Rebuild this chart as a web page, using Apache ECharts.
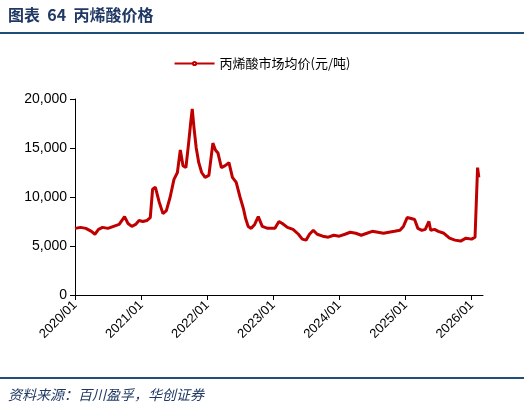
<!DOCTYPE html>
<html><head><meta charset="utf-8">
<script src="https://cdn.jsdelivr.net/npm/echarts@6/dist/echarts.min.js"></script>
<style>body{margin:0}#c{width:524px;height:413px}</style></head>
<body><div id="c"></div>
<script>
const dates = ["2020-01-01","2020-02-01","2020-03-01","2020-04-01","2020-04-20","2020-05-10","2020-06-01","2020-07-01","2020-08-01","2020-09-01","2020-10-01","2020-10-20","2020-11-10","2020-12-01","2020-12-20",
"2021-01-10","2021-02-01","2021-02-20","2021-03-05","2021-03-20","2021-04-10","2021-05-01","2021-05-20","2021-06-10","2021-07-01","2021-07-20","2021-08-05","2021-08-20","2021-09-05","2021-09-20","2021-10-01","2021-10-10","2021-10-20","2021-11-01","2021-11-15","2021-12-01","2021-12-20",
"2022-01-10","2022-02-01","2022-02-15","2022-03-01","2022-03-20","2022-04-10","2022-05-01","2022-05-20","2022-06-10","2022-07-01","2022-07-20","2022-08-01","2022-08-15","2022-09-01","2022-09-20","2022-10-10","2022-11-01","2022-12-01",
"2023-01-10","2023-02-01","2023-02-20","2023-03-20","2023-04-20","2023-05-20","2023-06-10","2023-07-01","2023-07-20","2023-08-10","2023-09-01","2023-10-01","2023-11-01","2023-12-01",
"2024-01-01","2024-02-01","2024-03-01","2024-04-01","2024-05-01","2024-06-01","2024-07-01","2024-08-01","2024-09-01","2024-10-01","2024-11-01","2024-12-01","2024-12-20",
"2025-01-10","2025-02-01","2025-02-20","2025-03-10","2025-04-01","2025-04-20","2025-05-10","2025-05-20","2025-06-10","2025-07-01","2025-08-01","2025-09-01","2025-10-01","2025-11-01","2025-12-01",
"2026-01-01","2026-01-20","2026-01-28","2026-02-03","2026-02-10"];
const prices = [6800,6900,6800,6500,6200,6700,6900,6800,7000,7200,8000,7300,7000,7200,7600,
7500,7600,7900,10800,11000,9500,8300,8600,10000,11800,12500,14800,13200,13000,15500,17500,19000,17000,15000,13500,12500,12000,
12200,15500,14800,14500,13000,13200,13500,12000,11500,10000,8800,7800,7000,6800,7200,8000,7000,6800,
6800,7500,7300,6900,6700,6200,5700,5600,6200,6600,6200,6000,5900,6100,
6000,6200,6400,6300,6100,6300,6500,6400,6300,6400,6500,6600,7000,
7900,7800,7700,6800,6600,6700,7500,6600,6700,6500,6300,5800,5600,5500,5800,
5700,5900,6000,13000,12000];
const yearLabels = ["2020/01","2021/01","2022/01","2023/01","2024/01","2025/01","2026/01"];
const ts = s => Date.UTC(+s.slice(0,4), +s.slice(5,7)-1, s.length>7 ? +s.slice(8,10) : 1);
const tickVals = yearLabels.map(ts);
const chart = echarts.init(document.getElementById('c'));
chart.setOption({
  animation:false,
  graphic:[
    {type:'text',left:8,top:7,style:{text:'图表  64  丙烯酸价格',font:'bold 16px "Noto Sans CJK SC"',fill:'#1f3864'}},
    {type:'rect',shape:{x:0,y:32,width:524,height:2},style:{fill:'#1f4e79'}},
    {type:'rect',shape:{x:0,y:377,width:524,height:2},style:{fill:'#1f4e79'}},
    {type:'text',left:8,top:388,style:{text:'资料来源：百川盈孚，华创证券',font:'italic 14px "Noto Sans CJK SC"',fill:'#1f3864'}}
  ],
  legend:{top:52,left:'center',itemWidth:40,itemHeight:4,textStyle:{fontSize:13,fontFamily:'Noto Sans CJK SC',color:'#000'},data:['丙烯酸市场均价(元/吨)']},
  grid:{left:75,right:41,top:99,bottom:118},
  xAxis:{type:'value',min:tickVals[0],max:Date.UTC(2026,2,5),
    axisLine:{lineStyle:{color:'#000'}},splitLine:{show:false},
    axisTick:{customValues:tickVals,lineStyle:{color:'#000'}},
    axisLabel:{customValues:tickVals,rotate:45,color:'#000',fontSize:13,fontFamily:'Liberation Sans',
      formatter:v=>new Date(v).getUTCFullYear()+'/01'}},
  yAxis:{type:'value',min:0,max:20000,interval:5000,
    axisLine:{show:true,lineStyle:{color:'#000'}},axisTick:{show:true,lineStyle:{color:'#000'}},splitLine:{show:false},
    axisLabel:{color:'#000',fontSize:14,fontFamily:'Liberation Sans'}},
  series:[{name:'丙烯酸市场均价(元/吨)',type:'line',showSymbol:false,
    lineStyle:{color:'#c00000',width:3},itemStyle:{color:'#c00000'},
    data:dates.map((d,i)=>[ts(d),prices[i]])}]
});
</script></body></html>
